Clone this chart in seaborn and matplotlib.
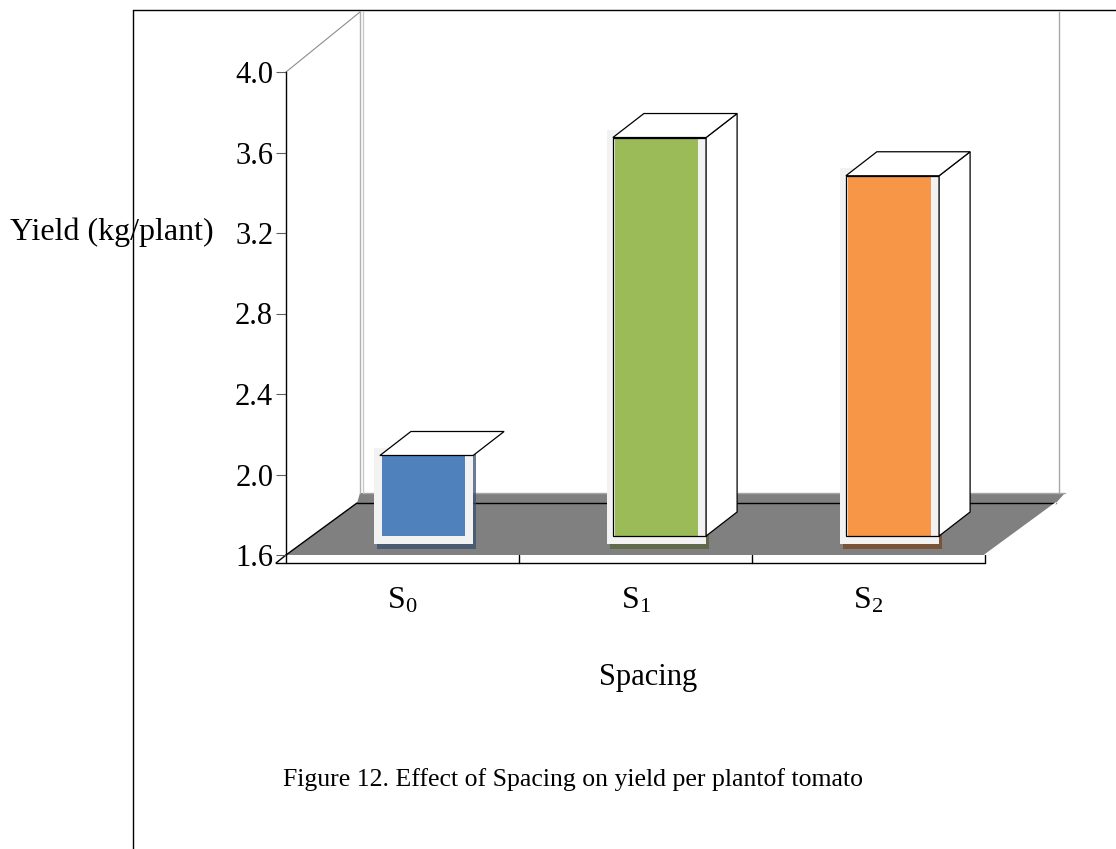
import matplotlib
matplotlib.use("Agg")
import matplotlib.pyplot as plt
import matplotlib.transforms as mtrans
from matplotlib.patches import Polygon, Rectangle
from matplotlib.lines import Line2D
import seaborn as sns

# ---------------- data ----------------
categories = ["S$_0$", "S$_1$", "S$_2$"]
yields = [2.00, 3.58, 3.39]
bar_colors = ["#4f81bd", "#9bbb59", "#f79646"]
shadow_colors = ["#3a4f6e", "#55653a", "#7a4520"]
wireframe = [False, True, True]
yticks = [1.6, 2.0, 2.4, 2.8, 3.2, 3.6, 4.0]
ytick_labels = ["1.6", "2.0", "2.4", "2.8", "3.2", "3.6", "4.0"]
ylabel_text = "Yield (kg/plant)"
xlabel_text = "Spacing"
caption_text = "Figure 12. Effect of Spacing on yield per plantof tomato"
y_base = 1.6
y_top = 4.0

# ---------------- style ----------------
sns.set_theme(style="white")
plt.rcParams["font.family"] = ["Liberation Serif", "DejaVu Serif"]
plt.rcParams["mathtext.fontset"] = "custom"
plt.rcParams["mathtext.rm"] = "Liberation Serif"
plt.rcParams["mathtext.it"] = "Liberation Serif:italic"
plt.rcParams["text.color"] = "black"
plt.rcParams["xtick.labelcolor"] = "black"
plt.rcParams["ytick.labelcolor"] = "black"

W, H = 1116, 849
fig = plt.figure(figsize=(W / 100, H / 100), dpi=100, facecolor="white")
ax = fig.add_axes([286 / W, 1 - 555 / H, 699 / W, 483 / H])
ax.patch.set_visible(False)

sns.barplot(x=categories, y=yields, hue=categories, palette=bar_colors,
            width=0.36, saturation=1, legend=False, ax=ax)
ax.set_xlim(-0.5, len(categories) - 0.5)
ax.set_ylim(y_base, y_top)

ID = mtrans.IdentityTransform()


def disp(x, y):
    return ax.transData.transform((x, y))


# depth offsets (pixels)
BAR_SHIFT = (21, 19)
BOX_SHIFT = (24, 19)
BOX_DEPTH = (31, 24)
FLOOR_D = (71, 52)
WALL_D = (74, 62)
TOP_D = (74, 60)

# ---------------- floor slab & walls ----------------
FL = disp(-0.5, y_base)
FR = disp(len(categories) - 0.5, y_base)
TL = disp(-0.5, y_top)

floor = Polygon([FL, FR,
                 (FR[0] + FLOOR_D[0], FR[1] + FLOOR_D[1]),
                 (FR[0] + WALL_D[0] + 6, FR[1] + WALL_D[1]),
                 (FL[0] + WALL_D[0], FL[1] + WALL_D[1]),
                 (FL[0] + FLOOR_D[0], FL[1] + FLOOR_D[1])],
                closed=True, facecolor="#808080", edgecolor="none",
                transform=ID, clip_on=False, zorder=0.2)
ax.add_artist(floor)


def line(p, q, color="black", lw=1.0, z=0.3):
    ax.add_artist(Line2D([p[0], q[0]], [p[1], q[1]], color=color, lw=lw,
                         transform=ID, clip_on=False, zorder=z))


# floor edges
line(FL, (FL[0] + FLOOR_D[0], FL[1] + FLOOR_D[1]))
line((FL[0] + FLOOR_D[0], FL[1] + FLOOR_D[1]), (FR[0] + FLOOR_D[0], FR[1] + FLOOR_D[1]))
line(FR, (FR[0] + FLOOR_D[0], FR[1] + FLOOR_D[1]), color="white", lw=1.2)
line((FL[0] + WALL_D[0] + 3, FL[1] + WALL_D[1]), (FR[0] + WALL_D[0] + 6, FR[1] + WALL_D[1]),
     color="#a6a6a6", lw=1.0)

# back walls
wall_top_y = TL[1] + TOP_D[1]
line((FL[0] + WALL_D[0], FL[1] + WALL_D[1]), (FL[0] + WALL_D[0], wall_top_y), color="#b0b0b0")
line((FL[0] + WALL_D[0] + 3, FL[1] + WALL_D[1]), (FL[0] + WALL_D[0] + 3, wall_top_y), color="#c8c8c8")
line((FR[0] + WALL_D[0], FR[1] + WALL_D[1]), (FR[0] + WALL_D[0], wall_top_y), color="#a6a6a6")
line(TL, (TL[0] + TOP_D[0], TL[1] + TOP_D[1]), color="#8c8c8c", lw=0.8)

# front face of slab
SLAB = 8
ax.add_artist(Rectangle((FL[0], FL[1] - SLAB), FR[0] - FL[0], SLAB, facecolor="white",
                        edgecolor="none", transform=ID, clip_on=False, zorder=0.25))
line((FL[0] - 10, FL[1] - SLAB), (FR[0], FR[1] - SLAB))
line((FL[0] - 10, FL[1] - SLAB), FL)
line((FL[0], FL[1]), (FL[0], FL[1] - SLAB))
for k in range(1, len(categories) + 1):
    b = disp(k - 0.5, y_base)
    line((b[0], b[1]), (b[0], b[1] - SLAB))

# ---------------- bars ----------------
for i, (p, v) in enumerate(zip(ax.patches, yields)):
    p.set_y(y_base)
    p.set_height(v - y_base)
    p.set_transform(ax.transData + mtrans.Affine2D().translate(*BAR_SHIFT))
    p.set_clip_on(False)
    p.set_zorder(0.8)
    p.set_edgecolor("none")

    x0, w = p.get_x(), p.get_width()
    cl, cb = disp(x0, y_base)
    cr, ct = disp(x0 + w, v)
    cl += BAR_SHIFT[0]; cr += BAR_SHIFT[0]; cb += BAR_SHIFT[1]; ct += BAR_SHIFT[1]
    m = 8
    ax.add_artist(Rectangle((cl - m + 3, cb - m - 5), cr - cl + 2 * m, ct - cb + 2 * m,
                            facecolor=shadow_colors[i], alpha=0.75, edgecolor="none",
                            transform=ID, clip_on=False, zorder=0.6))
    ax.add_artist(Rectangle((cl - m, cb - m), cr - cl + 2 * m, ct - cb + 2 * m,
                            facecolor="#f2f2f2", edgecolor="none",
                            transform=ID, clip_on=False, zorder=0.7))

    c = x0 + w / 2
    L, B = disp(c - 0.2, y_base)
    R, T = disp(c + 0.2, v)
    L += BOX_SHIFT[0]; R += BOX_SHIFT[0]; B += BOX_SHIFT[1]; T += BOX_SHIFT[1]
    dx, dy = BOX_DEPTH
    if wireframe[i]:
        ax.add_artist(Rectangle((L, B), R - L, T - B, facecolor="none", edgecolor="black",
                                lw=0.9, transform=ID, clip_on=False, zorder=0.9))
        ax.add_artist(Polygon([(R, B), (R, T), (R + dx, T + dy), (R + dx, B + dy)],
                              closed=True, facecolor="white", edgecolor="black", lw=0.9,
                              transform=ID, clip_on=False, zorder=1.0))
    ax.add_artist(Polygon([(L, T), (R, T), (R + dx, T + dy), (L + dx, T + dy)],
                          closed=True, facecolor="white", edgecolor="black", lw=0.9,
                          transform=ID, clip_on=False, zorder=1.0))

# ---------------- axes styling ----------------
for s in ["top", "right", "bottom"]:
    ax.spines[s].set_visible(False)
ax.spines["left"].set_color("black")
ax.spines["left"].set_linewidth(1.0)
ax.set_yticks(yticks)
ax.set_yticklabels(ytick_labels, fontsize=22)
ax.tick_params(axis="y", direction="out", length=7.2, width=0.8, color="#606060",
               pad=2, left=True, labelcolor="black")
ax.tick_params(axis="x", length=0, pad=22, labelsize=23, labelcolor="black")
ax.set_xlabel("")
ax.set_ylabel("")

fig.text(10 / W, 1 - 232 / H, ylabel_text, fontsize=23, ha="left", va="center", color="black")
fig.text(648 / W, 1 - 685 / H, xlabel_text, fontsize=22, ha="center", va="baseline", color="black")
fig.text(573 / W, 1 - 786 / H, caption_text, fontsize=18.5, ha="center", va="baseline", color="black")

# outer frame
fig.add_artist(Line2D([133 / W, 1.0], [1 - 10 / H, 1 - 10 / H], color="black", lw=1.0,
                      transform=fig.transFigure))
fig.add_artist(Line2D([133 / W, 133 / W], [1 - 10 / H, 0.0], color="black", lw=1.0,
                      transform=fig.transFigure))

fig.savefig("out.png", dpi=100, facecolor="white")
